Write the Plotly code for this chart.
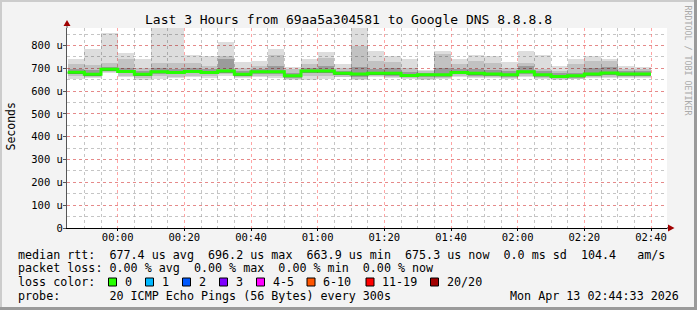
import plotly.graph_objects as go
import pandas as pd

# ---------------- data (values in microseconds) ----------------
bar_start = pd.date_range("2026-04-12 23:45:00", periods=35, freq="5min")
step_ms = 300000

rtt_median = [683, 674, 696.2, 686, 674, 685, 682, 686, 682, 688, 674, 685, 685, 667, 688, 688, 678,
              675, 678, 678, 669, 672, 672, 682, 678, 675, 672, 685, 672, 663.9, 667, 675, 680, 675, 675.3]
rtt_max = [739, 783, 853, 765, 743, 875, 905, 757, 752, 814, 726, 730, 783, 705, 739, 770, 721,
           930, 778, 752, 739, 692, 778, 739, 757, 752, 726, 778, 757, 708, 743, 752, 743, 708, 704]
rtt_q3 = [717, 713, 724, 739, 702, 724, 724, 722, 709, 752, 702, 708, 757, 695, 717, 746, 702,
          800, 734, 727, 702, 688, 761, 721, 732, 725, 702, 724, 695, 688, 717, 732, 730, 698, 695]
rtt_p60 = [698, 692, 705, 700, 690, 700, 697, 702, 695, 740, 688, 698, 708, 680, 702, 712, 690,
           705, 695, 700, 682, 680, 700, 697, 695, 692, 688, 712, 688, 678, 680, 700, 705, 688, 688]
rtt_p40 = [676, 666, 688, 678, 666, 676, 673, 678, 674, 681, 666, 677, 677, 660, 680, 680, 670,
           664, 670, 668, 661, 664, 662, 674, 668, 666, 664, 677, 662, 656, 660, 666, 672, 666, 666]
rtt_q1 = [666, 660, 683, 668, 657, 666, 664, 668, 665, 673, 660, 668, 667, 655, 668, 668, 664,
          655, 665, 664, 656, 654, 656, 666, 662, 662, 656, 668, 656, 652, 655, 662, 664, 662, 662]
rtt_min = [651, 656, 678, 660, 650, 655, 658, 660, 658, 665, 657, 660, 658, 650, 650, 655, 662,
           650, 660, 658, 652, 650, 652, 660, 656, 658, 652, 660, 655, 650, 652, 658, 658, 656, 656]

y_tick_vals = [0, 100, 200, 300, 400, 500, 600, 700, 800]
y_tick_text = ["0", "100 u", "200 u", "300 u", "400 u", "500 u", "600 u", "700 u", "800 u"]

title_text = "Last 3 Hours from 69aa5a304581 to Google DNS 8.8.8.8"
y_title = "Seconds"
legend_lines = [
    "median rtt:  677.4 us avg  696.2 us max  663.9 us min  675.3 us now  0.0 ms sd  104.4   am/s",
    "packet loss: 0.00 % avg  0.00 % max  0.00 % min  0.00 % now",
    "loss color:",
    "probe:       20 ICMP Echo Pings (56 Bytes) every 300s",
]
date_text = "Mon Apr 13 02:44:33 2026"
loss_labels = ["0", "1", "2", "3", "4-5", "6-10", "11-19", "20/20"]
loss_colors = ["#26ff00", "#00b8ff", "#0059ff", "#7e00ff", "#ff00ff", "#ff5500", "#ff0000", "#a10000"]

# ---------------- layout helpers ----------------
W, H = 697, 310
L, R, T, B = 67, 30, 28, 82
PW, PH = W - L - R, H - T - B


def px(x):
    return (x - L) / PW


def py(y):
    return (H - B - y) / PH


FONT = "DejaVu Sans Mono"
centers = bar_start + pd.Timedelta(seconds=150)

fig = go.Figure()


def band(lo, hi, color):
    fig.add_trace(go.Bar(
        x=centers, base=lo, y=[h - l for h, l in zip(hi, lo)], width=step_ms,
        marker=dict(color=color, line=dict(width=0)), hoverinfo="skip", showlegend=False))


band(rtt_min, rtt_max, "rgba(0,0,0,0.135)")
band(rtt_q1, rtt_q3, "rgba(0,0,0,0.12)")
band(rtt_p40, rtt_p60, "rgba(0,0,0,0.2)")

step_x = list(bar_start) + [bar_start[-1] + pd.Timedelta(minutes=5)]
step_y = rtt_median + [rtt_median[-1]]
fig.add_trace(go.Scatter(x=step_x, y=[v - 3 for v in step_y], mode="lines",
                         line=dict(color="#333333", width=1.2, shape="hv"),
                         hoverinfo="skip", showlegend=False))
fig.add_trace(go.Scatter(x=step_x, y=step_y, mode="lines",
                         line=dict(color=loss_colors[0], width=3, shape="hv"),
                         hoverinfo="skip", showlegend=False))

x0 = bar_start[0] - pd.Timedelta(seconds=12)
x1 = x0 + pd.Timedelta(hours=3)

fig.update_layout(
    width=W, height=H, margin=dict(l=L, r=R, t=T, b=B, autoexpand=False),
    paper_bgcolor="#f3f3f3", plot_bgcolor="#ffffff",
    barmode="overlay", bargap=0,
    font=dict(family=FONT, size=10.5, color="#000000"),
    xaxis=dict(
        type="date", range=[x0, x1], tickformat="%H:%M", automargin=False,
        tick0="2026-04-13 00:00:00", dtick=20 * 60 * 1000,
        showgrid=True, gridcolor="rgba(255,90,90,0.55)", griddash="dot", gridwidth=1,
        minor=dict(dtick=5 * 60 * 1000, tick0="2026-04-13 00:00:00", showgrid=True,
                   gridcolor="rgba(150,150,150,0.55)", griddash="dot", ticklen=0),
        showline=True, linecolor="#000000", linewidth=1,
        ticks="outside", ticklen=2, tickcolor="#000000", ticklabelstandoff=-3,
        zeroline=False, fixedrange=True,
    ),
    yaxis=dict(
        range=[0, PH / 0.228125], tickvals=y_tick_vals, ticktext=y_tick_text, automargin=False,
        showgrid=True, gridcolor="rgba(255,90,90,0.55)", griddash="dot", gridwidth=1,
        minor=dict(dtick=50, tick0=0, showgrid=True, gridcolor="rgba(150,150,150,0.55)",
                   griddash="dot", ticklen=0),
        showline=True, linecolor="#555555", linewidth=1,
        ticks="outside", ticklen=3, tickcolor="#555555", ticklabelstandoff=-2,
        zeroline=False, fixedrange=True,
    ),
)

shapes = []
# frame
shapes.append(dict(type="rect", xref="paper", yref="paper", x0=px(0), x1=px(W), y0=py(0), y1=py(2),
                   fillcolor="#cccccc", line=dict(width=0), layer="above"))
shapes.append(dict(type="rect", xref="paper", yref="paper", x0=px(0), x1=px(2), y0=py(0), y1=py(H),
                   fillcolor="#cccccc", line=dict(width=0), layer="above"))
shapes.append(dict(type="rect", xref="paper", yref="paper", x0=px(0), x1=px(W), y0=py(H - 3), y1=py(H),
                   fillcolor="#9a9a9a", line=dict(width=0), layer="above"))
shapes.append(dict(type="rect", xref="paper", yref="paper", x0=px(W - 3), x1=px(W), y0=py(0), y1=py(H),
                   fillcolor="#9a9a9a", line=dict(width=0), layer="above"))
# axis arrows
shapes.append(dict(type="line", xref="paper", yref="paper", x0=0, x1=0, y0=1, y1=py(24),
                   line=dict(color="#555555", width=1), layer="above"))
shapes.append(dict(type="path", xref="paper", yref="paper",
                   path=f"M {px(63.5)} {py(26)} L {px(70.5)} {py(26)} L {px(67)} {py(20)} Z",
                   fillcolor="#a00000", line=dict(width=0), layer="above"))
shapes.append(dict(type="line", xref="paper", yref="paper", x0=1, x1=px(670), y0=0, y1=0,
                   line=dict(color="#000000", width=1), layer="above"))
shapes.append(dict(type="path", xref="paper", yref="paper",
                   path=f"M {px(668)} {py(224.5)} L {px(668)} {py(231.5)} L {px(674.5)} {py(228)} Z",
                   fillcolor="#a00000", line=dict(width=0), layer="above"))

annotations = []
annotations.append(dict(text=title_text, xref="paper", yref="paper", x=px(348), y=py(19),
                        xanchor="center", yanchor="middle", showarrow=False,
                        font=dict(family=FONT, size=13, color="#000000")))
annotations.append(dict(text=y_title, xref="paper", yref="paper", x=px(10.5), y=py(127),
                        xanchor="center", yanchor="middle", showarrow=False, textangle=-90,
                        font=dict(family=FONT, size=11.5, color="#000000")))
annotations.append(dict(text="RRDTOOL / TOBI OETIKER", xref="paper", yref="paper", x=px(687.5), y=py(60),
                        xanchor="center", yanchor="middle", showarrow=False, textangle=90,
                        font=dict(family=FONT, size=8.3, color="#aaaaaa")))
line_y = [254.5, 268.3, 282.2, 296]
for txt, yy in zip(legend_lines, line_y):
    annotations.append(dict(text=txt.replace(" ", "\u00a0"), xref="paper", yref="paper", x=px(15.5), y=py(yy),
                            xanchor="left", yanchor="middle", showarrow=False,
                            font=dict(family=FONT, size=11.7, color="#000000")))
annotations.append(dict(text=date_text.replace(" ", "\u00a0"), xref="paper", yref="paper", x=px(681), y=py(296),
                        xanchor="right", yanchor="middle", showarrow=False,
                        font=dict(family=FONT, size=11.7, color="#000000")))
box_left = [108.5, 145.5, 182.5, 219.5, 256.5, 307, 366, 430.5]
for lbl, col, bx in zip(loss_labels, loss_colors, box_left):
    shapes.append(dict(type="rect", xref="paper", yref="paper", x0=px(bx), x1=px(bx + 8),
                       y0=py(278), y1=py(286), fillcolor=col, line=dict(color="#000000", width=1),
                       layer="above"))
    annotations.append(dict(text=lbl, xref="paper", yref="paper", x=px(bx + 14.3), y=py(282.2),
                            xanchor="left", yanchor="middle", showarrow=False,
                            font=dict(family=FONT, size=11.7, color="#000000")))

fig.update_layout(shapes=shapes, annotations=annotations)
fig.write_html("out.html")
